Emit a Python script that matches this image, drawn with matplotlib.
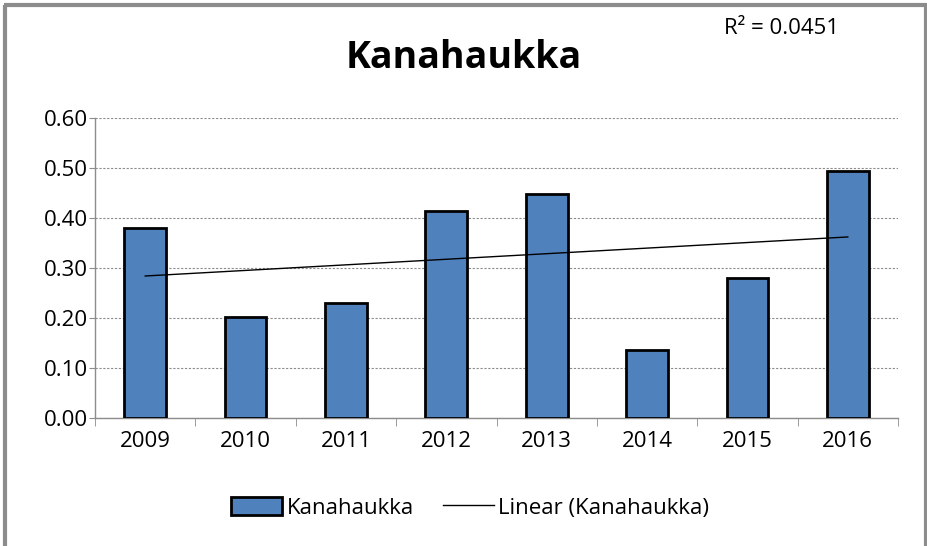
import matplotlib
matplotlib.use("Agg")
import matplotlib.pyplot as plt
import numpy as np
from matplotlib.lines import Line2D
from matplotlib.ticker import FixedLocator, NullFormatter

years = ["2009", "2010", "2011", "2012", "2013", "2014", "2015", "2016"]
values = [0.38, 0.202, 0.231, 0.414, 0.447, 0.136, 0.281, 0.4934]
yticks = [0.0, 0.1, 0.2, 0.3, 0.4, 0.5, 0.6]

plt.rcParams['font.family'] = ['Open Sans', 'DejaVu Sans']

fig = plt.figure(figsize=(9.27, 5.46), dpi=100)
border = dict(transform=fig.transFigure, color='#8c8c8c', linewidth=3, solid_capstyle='butt')
fig.lines.append(Line2D([0.0054, 0.0054], [0, 0.9908], **border))
fig.lines.append(Line2D([0.9984, 0.9984], [0, 0.9908], **border))
fig.lines.append(Line2D([0.0038, 1.0], [0.9908, 0.9908], **border))

ax = fig.add_axes([0.1025, 0.2344, 0.8662, 0.5495])

x = np.arange(len(years))
ax.bar(x, values, width=0.415, color='#4f81bd', edgecolor='black', linewidth=2,
       label='Kanahaukka', zorder=3)
coef = np.polyfit(x, values, 1)
fit = np.polyval(coef, x)
ss_res = np.sum((np.array(values) - fit) ** 2)
ss_tot = np.sum((np.array(values) - np.mean(values)) ** 2)
r2 = 1 - ss_res / ss_tot
ax.plot([x[0], x[-1]], [fit[0], fit[-1]], color='black', linewidth=1,
        label='Linear (Kanahaukka)', zorder=4)

ax.set_xlim(-0.5, len(years) - 0.5)
ax.set_ylim(0, 0.6)
ax.set_yticks(yticks)
ax.set_yticklabels([f"{v:.2f}" for v in yticks], fontsize=16)
ax.set_xticks(x)
ax.set_xticklabels(years, fontsize=16)
ax.tick_params(axis='x', length=0, pad=9)
ax.xaxis.set_minor_locator(FixedLocator(np.arange(-0.5, len(years), 1.0)))
ax.xaxis.set_minor_formatter(NullFormatter())
ax.tick_params(axis='x', which='minor', length=6, color='#8c8c8c')
ax.tick_params(axis='y', length=4, color='#8c8c8c', pad=1)
ax.grid(axis='y', linestyle=(0, (2, 1.5)), color='#8c8c8c', linewidth=0.8, zorder=0)
for s in ['top', 'right']:
    ax.spines[s].set_visible(False)
for s in ['left', 'bottom']:
    ax.spines[s].set_color('#8c8c8c')
    ax.spines[s].set_linewidth(1)

fig.text(0.5, 0.893, 'Kanahaukka', ha='center', va='center', fontsize=27, fontweight='bold')
fig.text(0.781, 0.948, f"R² = {r2:.4f}", ha='left', va='center', fontsize=16)

handles, labels = ax.get_legend_handles_labels()
order = [labels.index('Kanahaukka'), labels.index('Linear (Kanahaukka)')]
fig.legend([handles[i] for i in order], [labels[i] for i in order],
           loc='center', bbox_to_anchor=(0.507, 0.07), ncol=2, frameon=False,
           fontsize=16, handlelength=2.3, handleheight=0.9, handletextpad=0.2,
           columnspacing=1.3)

fig.savefig('out.png', dpi=100)
